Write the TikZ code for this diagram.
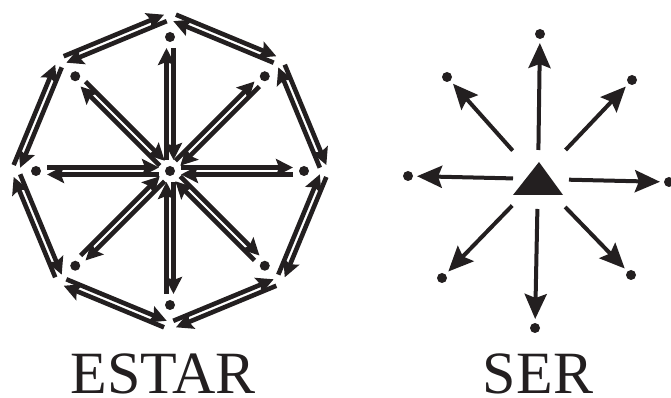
\documentclass[tikz,border=0pt]{standalone}
\usepackage{fontspec}
\setmainfont{Liberation Serif}
\usetikzlibrary{arrows.meta,calc}
\definecolor{ink}{RGB}{35,31,32}
\newcommand\twoway[4]{%
  \draw[way, shorten <=#3, shorten >=#4] ($(#1.center)!3.5pt!90:(#2.center)$) -- ($(#2.center)!3.5pt!-90:(#1.center)$);
  \draw[way, shorten <=#4, shorten >=#3] ($(#2.center)!3.5pt!90:(#1.center)$) -- ($(#1.center)!3.5pt!-90:(#2.center)$);
}
\begin{document}
\begin{tikzpicture}[
  x=1pt, y=1pt, color=ink,
  dot/.style={circle, fill=ink, inner sep=0pt, minimum size=10pt},
  way/.style={line width=4.6pt, -{Stealth[length=17pt, width=17pt, inset=3pt]}},
  ray/.style={line width=4pt, shorten >=9pt, -{Stealth[length=25pt, width=22pt, inset=4pt]}},
  word/.style={font=\fontsize{60}{60}\selectfont, anchor=base, inner sep=0pt}
]
  \useasboundingbox (0,0) rectangle (671,398);

  \node[dot] (ec) at (170,227) {};
  \foreach \i in {0,...,7} {
    \node[dot] (e\i) at ($(ec)+(\i*45:134)$) {};
    \coordinate (v\i) at ($(ec)+(\i*45:155)$);
  }
  \foreach \i in {0,...,7} {
    \pgfmathtruncatemacro\j{mod(\i+1,8)}
    \twoway{ec}{e\i}{11pt}{11pt}
    \twoway{v\i}{v\j}{5pt}{5pt}
  }

  \coordinate (sc) at (538,219);
  \fill (513,203) -- (563,203) -- (539,236) -- cycle;
  \foreach \n/\p/\s in {s0/{669,216}/31pt, s1/{632,318}/40pt, s2/{540,364}/29pt, s3/{447,321}/38pt,
                        s4/{408,222}/25pt, s5/{442,120}/37pt, s6/{535,70}/30pt, s7/{631,123}/39pt} {
    \node[dot] (\n) at (\p) {};
    \draw[ray, shorten <=\s] (sc) -- (\n.center);
  }

  \node[word] (estar) at (163,4) {ESTAR};
  \node[word] (ser) at (538,4) {SER};
\end{tikzpicture}
\end{document}
